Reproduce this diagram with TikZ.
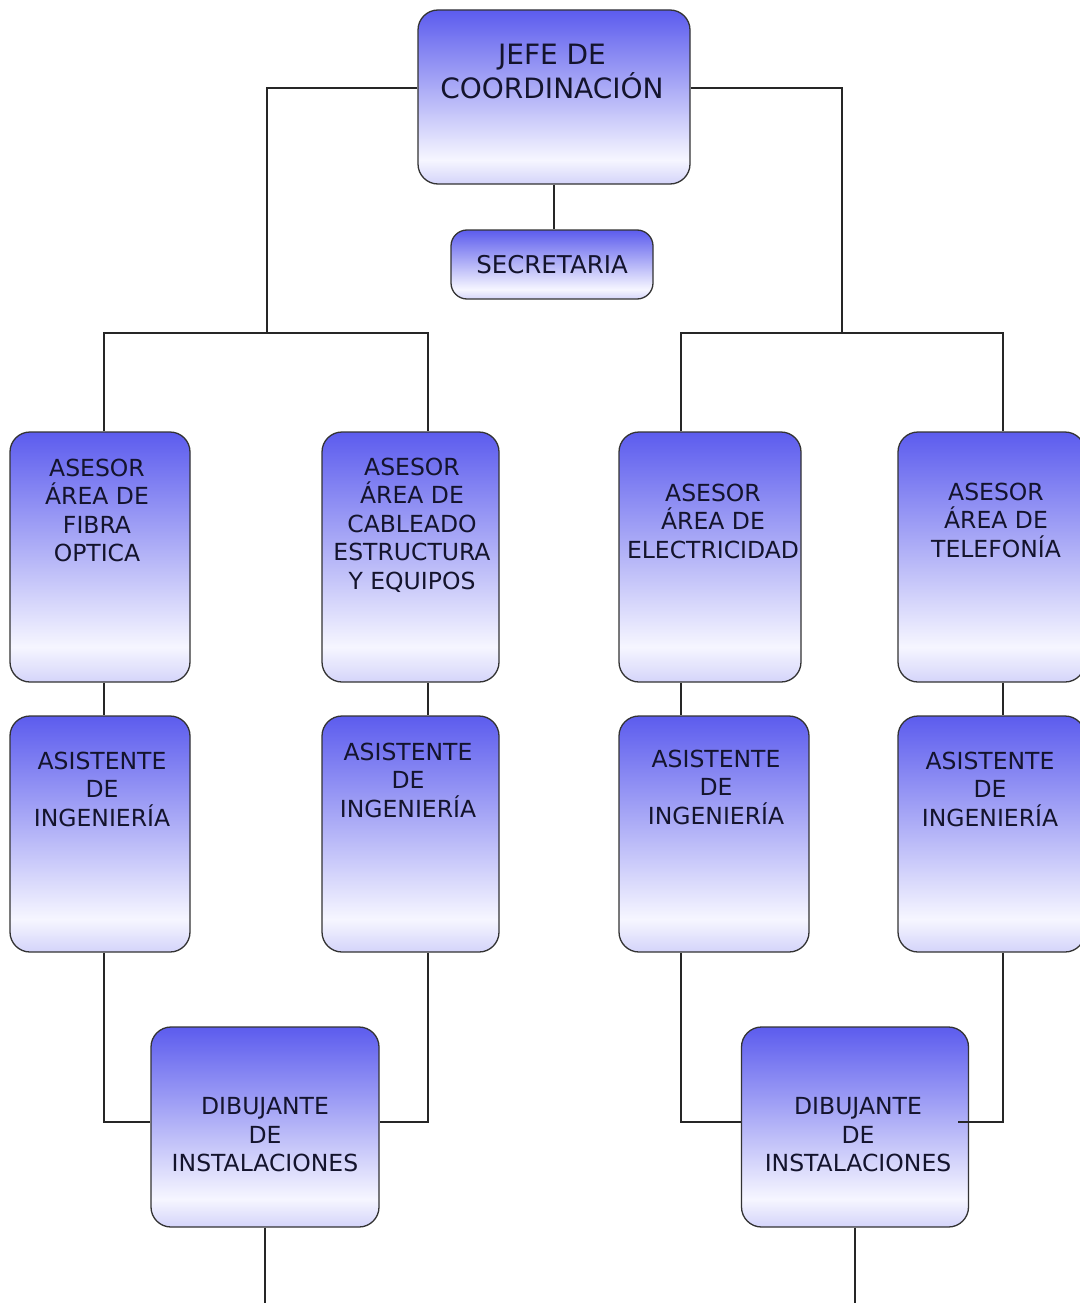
\documentclass[tikz,border=0pt]{standalone}
\usepackage{fontspec}
\setmainfont{DejaVu Sans}
\usetikzlibrary{positioning}
\definecolor{boxtop}{RGB}{92,92,238}
\definecolor{boxmid}{RGB}{170,170,246}
\definecolor{boxlight}{RGB}{246,246,255}
\definecolor{boxbot}{RGB}{212,212,250}
\definecolor{ink}{RGB}{20,20,45}
\pgfdeclareverticalshading{boxfade}{100bp}{color(0bp)=(boxbot); color(25bp)=(boxbot); color(32bp)=(boxlight); color(53bp)=(boxmid); color(75bp)=(boxtop); color(100bp)=(boxtop)}

\begin{document}
\begin{tikzpicture}[x=1pt, y=-1pt,
    unitbox/.style={draw=black!80, line width=1.3pt, rounded corners=20pt, shade, shading=boxfade, inner sep=0pt},
    asesor/.style={unitbox, minimum height=250pt},
    asist/.style={unitbox, minimum height=236pt},
    dibuj/.style={unitbox, minimum height=200pt},
    txt/.style={font=\fontsize{23.5}{28.5}\selectfont, text=ink, align=center},
    link/.style={line width=1.8pt, black!85},
]
    \useasboundingbox (0,0) rectangle (1079,1303);

    \node[unitbox, minimum width=272pt, minimum height=174pt,
        label={[txt, font=\fontsize{28}{34}\selectfont, xshift=-2pt, yshift=26pt]center:JEFE DE\\COORDINACIÓN}] (jefe) at (554,97) {};
    \node[unitbox, rounded corners=16pt, minimum width=202pt, minimum height=69pt, txt, font=\fontsize{24.5}{28.5}\selectfont] (secr) at (552,264.5) {SECRETARIA};

    \node[asesor, minimum width=180pt, label={[txt, xshift=-3pt, yshift=46.5pt]center:ASESOR\\ÁREA DE\\FIBRA\\OPTICA}] (a1) at (100,557) {};
    \node[asesor, minimum width=177pt, label={[txt, xshift=1.5pt, yshift=32pt]center:ASESOR\\ÁREA DE\\CABLEADO\\ESTRUCTURA\\Y EQUIPOS}] (a2) at (410.5,557) {};
    \node[asesor, minimum width=182pt, label={[txt, xshift=3pt, yshift=36pt]center:ASESOR\\ÁREA DE\\ELECTRICIDAD}] (a3) at (710,557) {};
    \node[asesor, minimum width=187pt, label={[txt, xshift=4.5pt, yshift=37pt]center:ASESOR\\ÁREA DE\\TELEFONÍA}] (a4) at (991.5,557) {};

    \node[asist, minimum width=180pt, label={[txt, xshift=2pt, yshift=45pt]center:ASISTENTE\\DE\\INGENIERÍA}] (b1) at (100,834) {};
    \node[asist, minimum width=177pt, label={[txt, xshift=-2.5pt, yshift=54pt]center:ASISTENTE\\DE\\INGENIERÍA}] (b2) at (410.5,834) {};
    \node[asist, minimum width=190pt, label={[txt, xshift=2pt, yshift=47pt]center:ASISTENTE\\DE\\INGENIERÍA}] (b3) at (714,834) {};
    \node[asist, minimum width=187pt, label={[txt, xshift=-1.5pt, yshift=45pt]center:ASISTENTE\\DE\\INGENIERÍA}] (b4) at (991.5,834) {};

    \node[dibuj, minimum width=228pt, label={[txt, yshift=-8pt]center:DIBUJANTE\\DE\\INSTALACIONES}] (d1) at (265,1127) {};
    \node[dibuj, minimum width=227pt, label={[txt, xshift=3pt, yshift=-8pt]center:DIBUJANTE\\DE\\INSTALACIONES}] (d2) at (855,1127) {};

    \coordinate (busL) at (267,333);
    \coordinate (busR) at (842,333);
    \coordinate (c1) at (104,333);
    \coordinate (c2) at (428,333);
    \coordinate (c3) at (681,333);
    \coordinate (c4) at (1003,333);
    \coordinate (bottom) at (0,1310);

    \draw[link] (jefe.south) -- (jefe.south |- secr.north);
    \draw[link] ([yshift=9pt]jefe.west) -| (busL);
    \draw[link] ([yshift=9pt]jefe.east) -| (busR);
    \draw[link] (c1 |- a1.north) -- (c1) -- (c2) -- (c2 |- a2.north);
    \draw[link] (c3 |- a3.north) -- (c3) -- (c4) -- (c4 |- a4.north);

    \draw[link] (c1 |- a1.south) -- (c1 |- b1.north);
    \draw[link] (c2 |- a2.south) -- (c2 |- b2.north);
    \draw[link] (c3 |- a3.south) -- (c3 |- b3.north);
    \draw[link] (c4 |- a4.south) -- (c4 |- b4.north);

    \draw[link] (c1 |- b1.south) |- ([yshift=5pt]d1.west);
    \draw[link] (c2 |- b2.south) |- ([yshift=5pt]d1.east);
    \draw[link] (c3 |- b3.south) |- ([yshift=5pt]d2.west);
    \draw[link] (c4 |- b4.south) |- ([xshift=-11pt, yshift=5pt]d2.east);

    \draw[link] (d1.south) -- (d1.south |- bottom);
    \draw[link] (d2.south) -- (d2.south |- bottom);
\end{tikzpicture}
\end{document}
